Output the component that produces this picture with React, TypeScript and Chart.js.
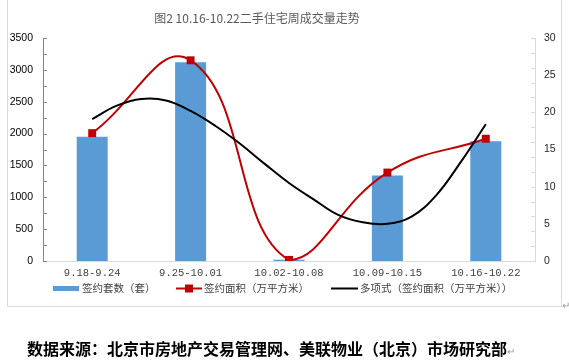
import React, { useEffect, useRef } from "react";
import { Chart, registerables } from "chart.js";

Chart.register(...registerables);

const chartTitle = "图2 10.16-10.22二手住宅周成交量走势";
const categories = ["9.18-9.24", "9.25-10.01", "10.02-10.08", "10.09-10.15", "10.16-10.22"];
const dealCount = [1950, 3120, 20, 1340, 1880];
const dealArea = [17.2, 27.0, 0.15, 11.9, 16.45];
const trendX = [0, 0.25, 0.5, 0.75, 1, 1.25, 1.5, 1.75, 2, 2.25, 2.5, 2.75, 3, 3.25, 3.5, 3.75, 4];
const trendY = [19.1, 20.9, 21.8, 21.6, 20.2, 18.2, 15.8, 13.1, 10.5, 8.3, 6.2, 5.2, 5.0, 6.0, 8.9, 13.4, 18.4];
const leftTicks = [0, 500, 1000, 1500, 2000, 2500, 3000, 3500];
const rightTicks = [0, 5, 10, 15, 20, 25, 30];
const legendLabels = ["签约套数（套）", "签约面积（万平方米）", "多项式（签约面积（万平方米））"];
const sourceNote = "数据来源：北京市房地产交易管理网、美联物业（北京）市场研究部";

const CJK = '"Noto Sans CJK SC", "Noto Sans", sans-serif';

const decorPlugin = {
  id: "decor",
  afterDraw(chart: any) {
    const ctx = chart.ctx;
    const y = chart.scales.y;
    const y1 = chart.scales.y1;
    const area = chart.chartArea;
    ctx.save();
    // frame
    ctx.strokeStyle = "#d9d9d9";
    ctx.lineWidth = 1;
    ctx.beginPath();
    ctx.moveTo(7.5, 0);
    ctx.lineTo(7.5, 306.5);
    ctx.lineTo(561.5, 306.5);
    ctx.lineTo(561.5, 0);
    ctx.stroke();
    // inside minor ticks
    ctx.strokeStyle = "#868686";
    ctx.beginPath();
    for (let v = 0; v <= 3500; v += 250) {
      const py = Math.round(y.getPixelForValue(v)) + 0.5;
      ctx.moveTo(area.left, py);
      ctx.lineTo(area.left + 4, py);
    }
    ctx.stroke();
    ctx.strokeStyle = "#d9d9d9";
    ctx.beginPath();
    for (let v = 0; v <= 30; v += 2) {
      const py = Math.round(y1.getPixelForValue(v)) + 0.5;
      ctx.moveTo(area.right - 4, py);
      ctx.lineTo(area.right, py);
    }
    ctx.stroke();
    // title
    ctx.fillStyle = "#595959";
    ctx.font = "12px " + CJK;
    ctx.textAlign = "center";
    ctx.textBaseline = "middle";
    ctx.fillText(chartTitle, 257, 18);
    // legend
    const ly = 288.5;
    ctx.font = "10.5px " + CJK;
    ctx.textAlign = "left";
    ctx.fillStyle = "#5b9bd5";
    ctx.fillRect(53, 286, 26, 5);
    ctx.fillStyle = "#404040";
    ctx.fillText(legendLabels[0], 82, ly);
    ctx.strokeStyle = "#c00000";
    ctx.lineWidth = 2;
    ctx.beginPath();
    ctx.moveTo(176, ly);
    ctx.lineTo(202, ly);
    ctx.stroke();
    ctx.fillStyle = "#c00000";
    ctx.fillRect(185, ly - 4, 8, 8);
    ctx.fillStyle = "#404040";
    ctx.fillText(legendLabels[1], 204, ly);
    ctx.strokeStyle = "#000";
    ctx.beginPath();
    ctx.moveTo(331, ly);
    ctx.lineTo(358, ly);
    ctx.stroke();
    ctx.fillText(legendLabels[2], 360, ly);
    ctx.restore();
  },
};

export default function App() {
  const ref = useRef<HTMLCanvasElement | null>(null);
  useEffect(() => {
    if (!ref.current) return;
    const chart = new Chart(ref.current, {
      type: "bar",
      data: {
        datasets: [
          {
            type: "line",
            label: legendLabels[2],
            data: trendX.map((x, i) => ({ x, y: trendY[i] })),
            xAxisID: "x",
            yAxisID: "y1",
            borderColor: "#000000",
            borderWidth: 2,
            pointRadius: 0,
            tension: 0.4,
            fill: false,
            order: 0,
          } as any,
          {
            type: "line",
            label: legendLabels[1],
            data: dealArea.map((v, i) => ({ x: i, y: v })),
            xAxisID: "x",
            yAxisID: "y1",
            borderColor: "#c00000",
            borderWidth: 2,
            tension: 0.45,
            pointStyle: "rect",
            pointRadius: 5.6,
            pointBackgroundColor: "#c00000",
            pointBorderColor: "#c00000",
            pointBorderWidth: 0,
            fill: false,
            order: 1,
          } as any,
          {
            type: "bar",
            label: legendLabels[0],
            data: dealCount.map((v, i) => ({ x: i, y: v })),
            xAxisID: "x",
            yAxisID: "y",
            backgroundColor: "#5b9bd5",
            grouped: false,
            categoryPercentage: 1,
            barPercentage: 0.315,
            order: 2,
          } as any,
        ],
      },
      options: {
        animation: false,
        responsive: false,
        devicePixelRatio: 1,
        layout: { padding: { top: 38, left: 0, right: 0, bottom: 0 } },
        plugins: {
          legend: { display: false },
          title: { display: false },
          tooltip: { enabled: false },
        },
        scales: {
          x: {
            type: "linear",
            min: -0.5,
            max: 4.5,
            offset: false,
            grid: { display: false, drawTicks: false },
            border: { color: "#d9d9d9" },
            afterBuildTicks: (s: any) => {
              s.ticks = categories.map((_, i) => ({ value: i }));
            },
            ticks: {
              padding: 6,
              color: "#404040",
              font: { family: '"Liberation Mono", monospace', size: 10.5 },
              maxRotation: 0,
              autoSkip: false,
              callback: (v: any) => categories[Math.round(Number(v))] ?? "",
            },
            afterFit: (s: any) => {
              s.height = 101;
            },
          },
          y: {
            position: "left",
            min: 0,
            max: 3500,
            grid: { display: false, drawTicks: false },
            border: { color: "#868686" },
            afterBuildTicks: (s: any) => {
              s.ticks = leftTicks.map((v) => ({ value: v }));
            },
            ticks: {
              padding: 10,
              color: "#000000",
              font: { family: '"Liberation Sans", Arial, sans-serif', size: 10.5 },
              callback: (v: any) => String(v),
            },
            afterFit: (s: any) => {
              s.width = 43;
            },
          },
          y1: {
            position: "right",
            min: 0,
            max: 30,
            grid: { display: false, drawTicks: false },
            border: { color: "#d9d9d9" },
            afterBuildTicks: (s: any) => {
              s.ticks = rightTicks.map((v) => ({ value: v }));
            },
            ticks: {
              padding: 9,
              color: "#262626",
              font: { family: '"Liberation Sans", Arial, sans-serif', size: 10.5 },
              callback: (v: any) => String(v),
            },
            afterFit: (s: any) => {
              s.width = 34;
            },
          },
        },
      },
      plugins: [decorPlugin],
    });
    return () => chart.destroy();
  }, []);

  return (
    <div style={{ position: "absolute", left: 0, top: 0, width: 569, height: 362, background: "#fff", overflow: "hidden" }}>
      <canvas ref={ref} width={569} height={362} style={{ position: "absolute", left: 0, top: 0, width: 569, height: 362 }} />
      <span style={{ position: "absolute", left: 562, top: 297, fontSize: 10, color: "#999", fontFamily: CJK }}>↵</span>
      <div
        style={{
          position: "absolute",
          left: 27,
          top: 338,
          fontFamily: CJK,
          fontWeight: 700,
          fontSize: 16,
          lineHeight: "20px",
          color: "#000",
          whiteSpace: "nowrap",
        }}
      >
        {sourceNote}
        <span style={{ fontSize: 10, fontWeight: 400, color: "#999" }}>↵</span>
      </div>
    </div>
  );
}
